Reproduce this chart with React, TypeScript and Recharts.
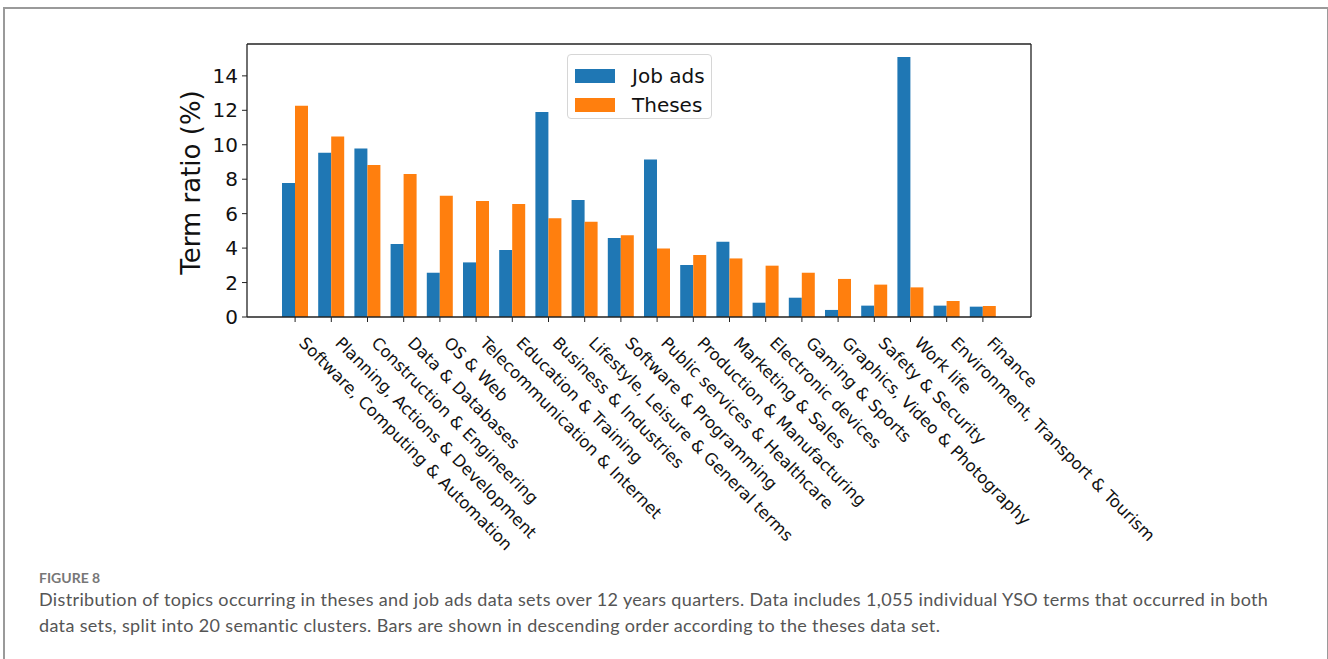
import { BarChart, Bar, XAxis, YAxis, CartesianGrid } from 'recharts'

const categories = [
  'Software, Computing & Automation',
  'Planning, Actions & Development',
  'Construction & Engineering',
  'Data & Databases',
  'OS & Web',
  'Telecommunication & Internet',
  'Education & Training',
  'Business & Industries',
  'Lifestyle, Leisure & General terms',
  'Software & Programming',
  'Public services & Healthcare',
  'Production & Manufacturing',
  'Marketing & Sales',
  'Electronic devices',
  'Gaming & Sports',
  'Graphics, Video & Photography',
  'Safety & Security',
  'Work life',
  'Environment, Transport & Tourism',
  'Finance',
]

const jobAds = [7.78, 9.54, 9.79, 4.24, 2.57, 3.17, 3.89, 11.9, 6.79, 4.58, 9.15, 3.02, 4.37, 0.83, 1.12, 0.41, 0.66, 15.09, 0.66, 0.6]
const theses = [12.26, 10.48, 8.82, 8.3, 7.04, 6.73, 6.56, 5.74, 5.53, 4.74, 3.97, 3.6, 3.4, 2.98, 2.57, 2.21, 1.88, 1.72, 0.93, 0.64]

const yTicks = [0, 2, 4, 6, 8, 10, 12, 14]

const data = categories.map((name, i) => ({ name, jobAds: jobAds[i], theses: theses[i] }))

const BLUE = '#1f77b4'
const ORANGE = '#ff7f0e'
const FONT = 'DejaVu Sans, sans-serif'

function SlantTick(props: any) {
  const { x, y, payload } = props
  const bx = x + 3
  const by = y + 20
  return (
    <text x={bx} y={by} transform={`rotate(45, ${bx}, ${by})`} fontSize={16.5} fontFamily={FONT} fill="#111" textAnchor="start">
      {payload.value}
    </text>
  )
}

function YLabel(props: any) {
  const { viewBox } = props
  const x = viewBox.x + viewBox.width - 47
  const y = viewBox.y + viewBox.height / 2 + 2
  return (
    <text x={x} y={y} transform={`rotate(-90, ${x}, ${y})`} textAnchor="middle" fontSize={26} fontFamily={FONT} fill="#111">
      Term ratio (%)
    </text>
  )
}

function LegendBox() {
  const items = [
    { label: 'Job ads', color: BLUE },
    { label: 'Theses', color: ORANGE },
  ]
  return (
    <div style={{ position: 'absolute', left: 567, top: 54, width: 145, height: 65, border: '1px solid #d6d6d6', borderRadius: 4, background: 'rgba(255,255,255,0.8)', boxSizing: 'border-box', paddingTop: 6, paddingLeft: 7, fontFamily: FONT }}>
      {items.map((it) => (
        <div key={it.label} style={{ display: 'flex', alignItems: 'center', height: 29 }}>
          <div style={{ width: 40, height: 14, background: it.color }} />
          <span style={{ marginLeft: 17, fontSize: 20, color: '#111' }}>{it.label}</span>
        </div>
      ))}
    </div>
  )
}

export default function App() {
  return (
    <div style={{ position: 'absolute', left: 0, top: 0, width: 1328, height: 659, background: '#fff', overflow: 'hidden' }}>
      <div style={{ position: 'absolute', left: 3, top: 7, width: 1322, height: 700, border: '2px solid #9a9a9a', borderBottom: 'none' }} />
      <div style={{ position: 'absolute', left: 0, top: 0 }}>
        <BarChart
          width={1328}
          height={560}
          data={data}
          margin={{ top: 44, right: 297, left: 0, bottom: 0 }}
          barGap={0}
          barSize={13}
        >
          <CartesianGrid
            stroke="#222"
            strokeWidth={1.3}
            horizontalCoordinatesGenerator={({ offset }: any) => [offset.top]}
            verticalCoordinatesGenerator={({ offset }: any) => [offset.left + offset.width]}
          />
          <XAxis
            dataKey="name"
            interval={0}
            padding={{ left: 30, right: 30 }}
            height={243}
            tick={<SlantTick />}
            tickSize={5}
            tickLine={{ stroke: '#222' }}
            axisLine={{ stroke: '#222', strokeWidth: 1.3 }}
          />
          <YAxis
            width={247}
            domain={[0, 15.85]}
            ticks={yTicks}
            interval={0}
            type="number"
            allowDataOverflow
            tickSize={5}
            tickMargin={4}
            tickLine={{ stroke: '#222' }}
            axisLine={{ stroke: '#222', strokeWidth: 1.3 }}
            tick={{ fontSize: 20, fontFamily: FONT, fill: '#111' }}
            label={<YLabel />}
          />
          <Bar dataKey="jobAds" name="Job ads" fill={BLUE} isAnimationActive={false} />
          <Bar dataKey="theses" name="Theses" fill={ORANGE} isAnimationActive={false} />
        </BarChart>
      </div>
      <LegendBox />
      <div style={{ position: 'absolute', left: 39, top: 569, fontFamily: 'Lato, sans-serif', color: '#777', fontSize: 14, fontWeight: 700 }}>FIGURE 8</div>
      <div style={{ position: 'absolute', left: 39, top: 586, width: 1250, fontFamily: 'Lato, sans-serif', color: '#555', fontSize: 18, letterSpacing: 0.35, lineHeight: '26px' }}>
        Distribution of topics occurring in theses and job ads data sets over 12 years quarters. Data includes 1,055 individual YSO terms that occurred in both data sets, split into 20 semantic clusters. Bars are shown in descending order according to the theses data set.
      </div>
    </div>
  )
}
